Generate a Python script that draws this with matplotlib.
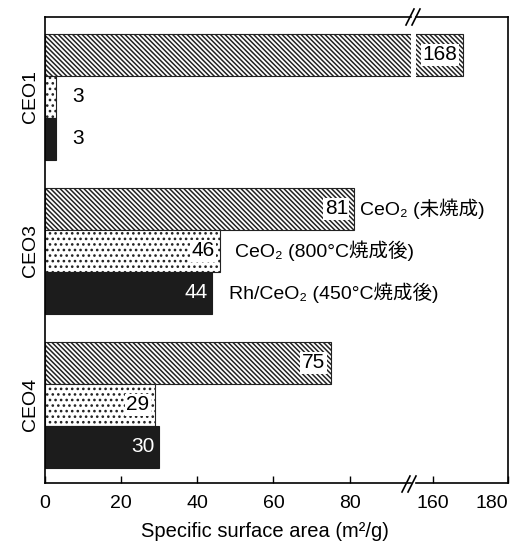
import numpy as np
import matplotlib.pyplot as plt
from matplotlib.lines import Line2D

# Datos del gráfico
muestras = ['CEO1', 'CEO3', 'CEO4']
sin_calcinar = [168, 81, 75]
calc_800 = [3, 46, 29]
rh_450 = [3, 44, 30]
etiquetas = ['CeO₂ (未焼成)', 'CeO₂ (800°C焼成後)', 'Rh/CeO₂ (450°C焼成後)']
ticks_izq = [0, 20, 40, 60, 80]
ticks_der = [160, 180]

plt.rcParams['font.family'] = ['Liberation Sans', 'Noto Sans CJK JP', 'DejaVu Sans']
plt.rcParams['hatch.linewidth'] = 1.1

W, H = 522, 542
fig = plt.figure(figsize=(W / 100, H / 100), dpi=100)
ax1 = fig.add_axes([44.5 / W, 1 - 483 / H, (411 - 44.5) / W, (483 - 17) / H])
ax2 = fig.add_axes([416 / W, 1 - 483 / H, (508 - 416) / W, (483 - 17) / H], sharey=ax1)
ax2.patch.set_visible(False)

ax1.set_xlim(0, (411 - 44.5) / 3.815)
ax2.set_xlim(160 - (433 - 416) / 3.75, 180)

y = np.arange(len(muestras))
h = 0.273
estilos = [
    dict(color='white', edgecolor='#222222', hatch='\\' * 7),
    dict(color='white', edgecolor='#222222', hatch='...'),
    dict(color='#1c1c1c', edgecolor='#1c1c1c'),
]
series = [sin_calcinar, calc_800, rh_450]

for ax in (ax1, ax2):
    for k, (vals, est) in enumerate(zip(series, estilos)):
        ax.barh(y + (k - 1) * h, vals, height=h, linewidth=0.8, **est)

ax1.set_ylim(2.51, -0.52)

# Etiquetas de valores
lim = ax1.get_xlim()[1]
for k, vals in enumerate(series):
    for i, v in enumerate(vals):
        yy = y[i] + (k - 1) * h
        ax = ax2 if v > lim else ax1
        if v < 10:
            ax.annotate(str(v), (v, yy), xytext=(12, 0), textcoords='offset points',
                        ha='left', va='center', fontsize=15)
        elif k == 2:
            ax.annotate(str(v), (v, yy), xytext=(-3, 0), textcoords='offset points',
                        ha='right', va='center', fontsize=15, color='white')
        else:
            ax.annotate(str(v), (v, yy), xytext=(-4, 0), textcoords='offset points',
                        ha='right', va='center', fontsize=15,
                        bbox=dict(facecolor='white', edgecolor='none', pad=1))

# Leyenda junto a CEO3
offs = [5, 11, 12]
for k, vals in enumerate(series):
    ax1.annotate(etiquetas[k], (vals[1], y[1] + (k - 1) * h), xytext=(offs[k], 0),
                 textcoords='offset points', ha='left', va='center', fontsize=14,
                 annotation_clip=False)

# Ejes
for ax in (ax1, ax2):
    for s in ax.spines.values():
        s.set_linewidth(1.2)
    ax.tick_params(axis='x', direction='in', length=5, width=1, labelsize=14, pad=9)
ax1.spines['right'].set_visible(False)
ax2.spines['left'].set_visible(False)
ax1.set_xticks(ticks_izq)
ax2.set_xticks(ticks_der)
ax2.get_xticklabels()[-1].set_ha('right')
ax1.set_yticks(y)
ax1.set_yticklabels(muestras, rotation=90, va='center', fontsize=14)
ax1.tick_params(axis='y', length=0, pad=4)
ax2.tick_params(axis='y', left=False, labelleft=False)

# Marcas de corte //
for cx, cy in [(413, 17), (409, 484)]:
    for dx in (-3, 3):
        fig.add_artist(Line2D([(cx + dx - 4) / W, (cx + dx + 4) / W],
                              [1 - (cy + 8) / H, 1 - (cy - 8) / H],
                              color='black', linewidth=1.2))

fig.text(265 / W, 5 / H, 'Specific surface area (m²/g)', ha='center', va='baseline', fontsize=14.5)

plt.savefig('out.png', dpi=100)
